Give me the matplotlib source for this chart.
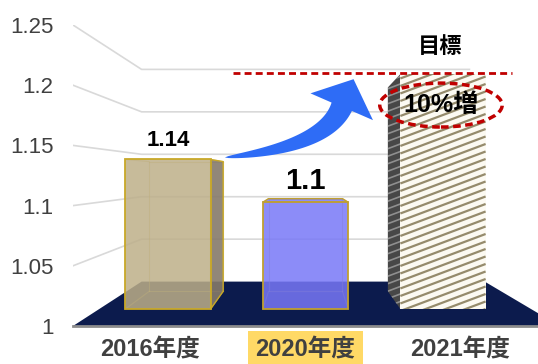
import numpy as np
import matplotlib.pyplot as plt
from matplotlib.patches import Polygon, Ellipse
from matplotlib.collections import LineCollection

plt.rcParams['font.family'] = ['Liberation Sans', 'Noto Sans CJK JP']

years = ['2016年度', '2020年度', '2021年度']
values = [1.14, 1.10, 1.22]
value_labels = ['1.14', '1.1', '']
label_sizes = [16, 21, 0]
target = 1.21
target_label = '目標'
increase_label = '10%増'
yticks = [1.0, 1.05, 1.1, 1.15, 1.2, 1.25]
ytick_labels = ['1', '1.05', '1.1', '1.15', '1.2', '1.25']

# fake 3D: everything is projected toward a vanishing point
VX, VY = 1.0, 1.125
S_FRONT, S_BACK = 0.887, 0.77   # depth of the boxes
S_WALL = 0.705                  # back wall
HALF = 0.31
XMIN, XMAX = -0.5, 2.5


def proj(x, v, s):
    return (VX + s * (x - VX), VY + s * (v - VY))


def face(x0, x1, v0, v1, s):
    return [proj(x0, v0, s), proj(x1, v0, s), proj(x1, v1, s), proj(x0, v1, s)]


def side(x, v0, v1):
    return [proj(x, v0, S_FRONT), proj(x, v1, S_FRONT), proj(x, v1, S_BACK), proj(x, v0, S_BACK)]


def top(x0, x1, v):
    return [proj(x0, v, S_FRONT), proj(x1, v, S_FRONT), proj(x1, v, S_BACK), proj(x0, v, S_BACK)]


def stripes(ax, poly, patch, color, lw, z):
    # shallow diagonal hatch clipped to the polygon
    xs = [p[0] for p in poly]
    ys = [p[1] for p in poly]
    slope = 0.375 * 155.0 / 1204.0
    step = 7.5 / 1204.0
    segs = []
    b = min(ys) - slope * (max(xs) - min(xs)) - step
    while b < max(ys) + step:
        segs.append([(min(xs), b), (max(xs), b + slope * (max(xs) - min(xs)))])
        b += step
    lc = LineCollection(segs, colors=color, linewidths=lw, zorder=z)
    ax.add_collection(lc)
    lc.set_clip_path(patch)


fig = plt.figure(figsize=(5.38, 3.64), dpi=100)
ax = fig.add_axes([73 / 538, 38 / 364, 465 / 538, 301 / 364])
ax.set_xlim(XMIN, XMAX)
ax.set_ylim(1.0, 1.25)
ax.set_facecolor('none')

# back wall gridlines
for v in yticks[1:]:
    pts = [proj(XMIN, v, 1.0), proj(XMIN, v, S_WALL), proj(XMAX, v, S_WALL)]
    ax.plot([p[0] for p in pts], [p[1] for p in pts], color='#d9d9d9', lw=1.2, zorder=1)

# floor
floor = [proj(XMIN, 1.0, 1.0), proj(2.64, 1.0, 1.0), proj(2.64, 1.0, S_WALL), proj(XMIN, 1.0, S_WALL)]
ax.add_patch(Polygon(floor, closed=True, facecolor='#0c1b4d', edgecolor='none', zorder=2))

box_styles = [
    dict(face=(0.74, 0.686, 0.537, 0.85), side=(0.52, 0.48, 0.42, 0.9), edge='#c8a828'),
    dict(face=(0.47, 0.47, 0.97, 0.85), side=(0.35, 0.35, 0.8, 0.9), edge='#c0a030'),
]

for i, v in enumerate(values):
    x0, x1 = i - HALF, i + HALF
    fr = face(x0, x1, 1.0, v, S_FRONT)
    if i < 2:
        st = box_styles[i]
        bk = face(x0, x1, 1.0, v, S_BACK)
        # back edges seen through the translucent box
        for a, b in [(0, 1), (1, 2), (2, 3), (3, 0), (0, None), (1, None), (2, None), (3, None)]:
            if b is None:
                seg = [bk[a], fr[a]]
            else:
                seg = [bk[a], bk[b]]
            ax.plot([seg[0][0], seg[1][0]], [seg[0][1], seg[1][1]], color=st['edge'],
                    lw=0.8, alpha=0.45, zorder=3)
        if i < VX - 0.05:
            ax.add_patch(Polygon(side(x1, 1.0, v), closed=True, facecolor=st['side'],
                                 edgecolor=st['edge'], lw=1.0, zorder=4))
        if v < VY:
            ax.add_patch(Polygon(top(x0, x1, v), closed=True, facecolor=st['face'],
                                 edgecolor=st['edge'], lw=1.0, zorder=4))
        ax.add_patch(Polygon(fr, closed=True, facecolor=st['face'], edgecolor=st['edge'],
                             lw=1.3, zorder=5))
    else:
        sd = side(x0, 1.0, v)
        p = Polygon(sd, closed=True, facecolor='#474747', edgecolor='none', zorder=4)
        ax.add_patch(p)
        stripes(ax, sd, p, '#8f8f8f', 1.2, 4.5)
        p = Polygon(fr, closed=True, facecolor='#fcfaf2', edgecolor='none', zorder=5)
        ax.add_patch(p)
        stripes(ax, fr, p, '#958b6c', 1.6, 5.5)

    if value_labels[i]:
        tx, ty = proj(i, v, S_FRONT)
        ax.text(tx, ty + 0.011, value_labels[i], ha='center', va='baseline',
                fontsize=label_sizes[i], fontweight='bold', color='black', zorder=8)

# target line, label and ellipse
ax.plot([0.53, 2.33], [target, target], color='#c00000', lw=2, dashes=(2.5, 1.5), zorder=7,
        clip_on=False)
ax.text(1.87, target + 0.021, target_label, ha='center', va='center', fontsize=16,
        fontweight='bold', color='black', zorder=8)
ax.add_patch(Ellipse((1.874, target - 0.0265), 0.79, 0.0365, facecolor='none', edgecolor='#c00000',
                     lw=2.5, linestyle=(0, (2.2, 1.3)), zorder=8))
ax.text(1.874, target - 0.0265, increase_label, ha='center', va='center', fontsize=18,
        fontweight='bold', color='black', zorder=9)

# curved growth arrow (built in display space so widths are in pixels)
fig.canvas.draw()
T = ax.transData
P0 = T.transform((0.48, values[0]))
tip = T.transform((1.31, target - 0.005))
hdir = np.array([0.394, 0.919])
hdir = hdir / np.linalg.norm(hdir)
P2 = tip - 30 * hdir
C = P0 + np.array([100.0, 10.0])
t = np.linspace(0, 1, 60)[:, None]
B = (1 - t) ** 2 * P0 + 2 * (1 - t) * t * C + t ** 2 * P2
dB = 2 * (1 - t) * (C - P0) + 2 * t * (P2 - C)
n = np.column_stack([-dB[:, 1], dB[:, 0]])
n = n / np.linalg.norm(n, axis=1)[:, None]
w = 11.0 * t[:, 0] ** 0.6
upper = B + n * w[:, None]
lower = B - n * w[:, None]
nh = np.array([-hdir[1], hdir[0]])
head = [P2 + nh * 34, tip, P2 - nh * 34]
pts = np.vstack([upper, head, lower[::-1]])
pts = T.inverted().transform(pts)
ax.add_patch(Polygon(pts, closed=True, facecolor='#2e6cf6', edgecolor='none', zorder=6))

# axes
for s in ['top', 'right', 'left']:
    ax.spines[s].set_visible(False)
ax.spines['bottom'].set_color('#8c8c8c')
ax.spines['bottom'].set_linewidth(2)
ax.spines['bottom'].set_zorder(3)
ax.set_yticks(yticks, ytick_labels)
ax.tick_params(axis='y', length=0, pad=14, labelsize=16, labelcolor='#404040')
ax.set_xticks(range(len(years)), years)
ax.tick_params(axis='x', length=0, pad=9, labelsize=17, labelcolor='#404040')
for k, lab in enumerate(ax.get_xticklabels()):
    lab.set_fontweight('bold')
    if k == 1:
        lab.set_bbox(dict(facecolor='#ffd966', edgecolor='none', boxstyle='square,pad=0.3'))

fig.savefig('out.png', dpi=100)
